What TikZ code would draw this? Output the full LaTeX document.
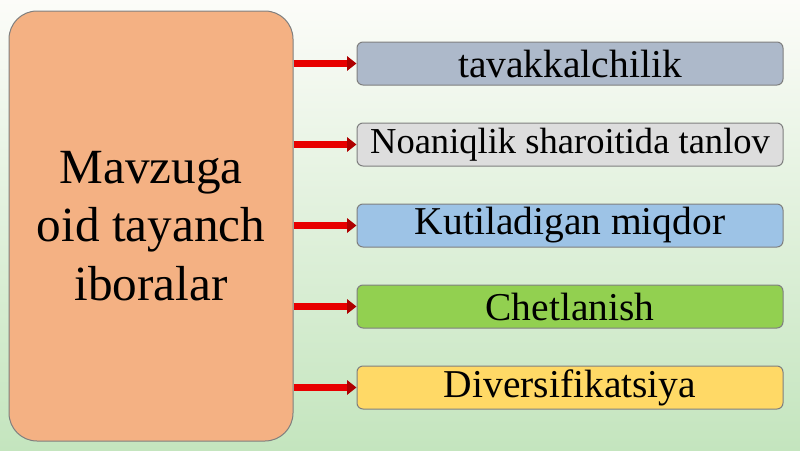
\documentclass[tikz,border=0pt]{standalone}
\usepackage{fontspec}
\setmainfont{Liberation Serif}
\usetikzlibrary{positioning, arrows.meta}
\definecolor{slidetop}{RGB}{252,252,249}
\definecolor{slidebottom}{RGB}{196,229,190}
\definecolor{keyfill}{HTML}{F4B183}
\definecolor{edgegrey}{HTML}{7F7F7F}
\definecolor{riskfill}{HTML}{ADB9CA}
\definecolor{choicefill}{HTML}{DDDDDD}
\definecolor{meanfill}{HTML}{9DC3E6}
\definecolor{spreadfill}{HTML}{92D050}
\definecolor{mixfill}{HTML}{FFD966}
\definecolor{arrowred}{HTML}{E80000}
\tikzstyle{Keys} = [
draw=edgegrey, line width=0.75pt, fill=keyfill,
rounded corners=21pt, minimum width=213pt, minimum height=322.5pt,
align=center, font=\fontsize{36.9}{44}\selectfont]
\tikzstyle{Term} = [
draw=edgegrey, line width=0.75pt, rounded corners=4.5pt,
minimum width=319.5pt, minimum height=32.25pt, inner sep=0pt,
font=\fontsize{29.6}{34}\selectfont]
\tikzstyle{Arrow} = [
arrowred, line width=5pt,
-{Triangle[length=7pt, width=10.5pt, color=arrowred!75!black]}]

\begin{document}
\begin{tikzpicture}[x=0.75pt, y=-0.75pt, node distance=27.75pt]
    \shade[top color=slidetop, bottom color=slidebottom] (0,0) rectangle (800,450);
    \useasboundingbox (0,0) rectangle (800,450);

    \node [Keys] (keys) at (151,226) {Mavzuga\\oid tayanch\\iboralar};
    \node [Term, fill=riskfill] (1) at (570,63.5) {tavakkalchilik};
    \node [Term, fill=choicefill, below =of 1, font=\fontsize{27.4}{32}\selectfont] (2) {Noaniqlik sharoitida tanlov};
    \node [Term, fill=meanfill, below =of 2] (3) {Kutiladigan miqdor};
    \node [Term, fill=spreadfill, below =of 3] (4) {Chetlanish};
    \node [Term, fill=mixfill, below =of 4] (5) {Diversifikatsiya};

    \draw[Arrow] (keys.east |- 1.west) -- (1.west);
    \draw[Arrow] (keys.east |- 2.west) -- (2.west);
    \draw[Arrow] (keys.east |- 3.west) -- (3.west);
    \draw[Arrow] (keys.east |- 4.west) -- (4.west);
    \draw[Arrow] (keys.east |- 5.west) -- (5.west);
\end{tikzpicture}
\end{document}
